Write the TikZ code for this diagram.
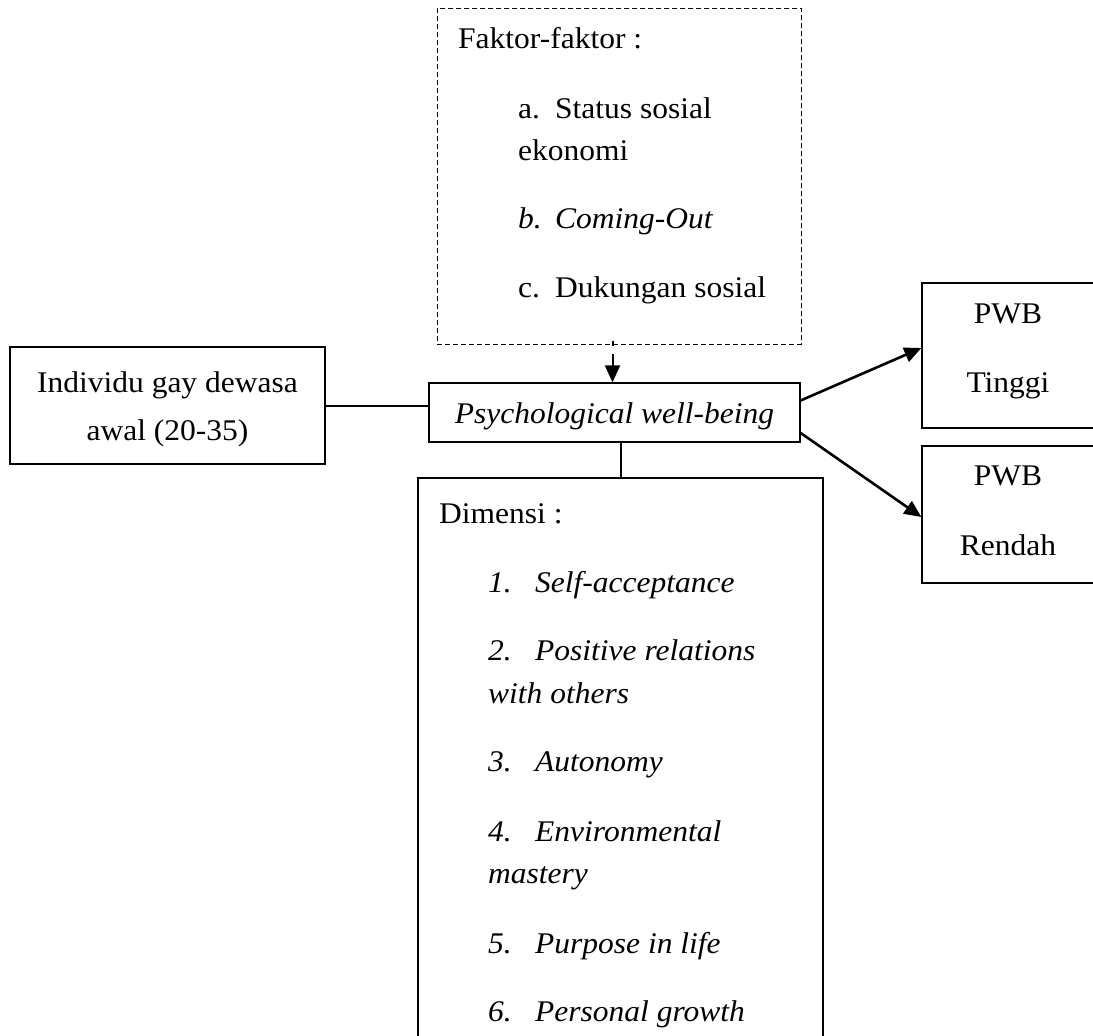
\documentclass[tikz,border=0pt]{standalone}
\usepackage{fontspec}
\setmainfont{Liberation Serif}[FakeStretch=1.05]
\usetikzlibrary{arrows.meta,calc}

\tikzset{
  box/.style={draw, line width=1.3pt, rectangle, inner sep=0pt},
  dashbox/.style={draw, line width=1pt, dash pattern=on 5pt off 3pt, inner sep=0pt},
  txt/.style={anchor=base west, inner sep=0pt},
  ctxt/.style={anchor=base, inner sep=0pt},
  link/.style={line width=2pt},
  arr/.style={-{Triangle[length=17pt,width=15pt]}, line width=2.6pt},
}

\begin{document}
\begin{tikzpicture}[x=1pt,y=-1pt,font=\fontsize{30}{36}\selectfont]
    \useasboundingbox (0,0) rectangle (1093,1036);
    \clip (0,0) rectangle (1093,1036);
    % Boxes
    \node[box, minimum width=315pt, minimum height=117pt] (indiv) at (167.5,405.5) {};
    \node[dashbox, minimum width=364pt, minimum height=336pt] (faktor) at (619,176) {};
    \node[box, minimum width=371pt, minimum height=59pt] (psych) at (614.5,412.5) {};
    \node[box, minimum width=173pt, minimum height=145pt] (tinggi) at (1008.5,355.5) {};
    \node[box, minimum width=173pt, minimum height=137pt] (rendah) at (1008.5,514.5) {};
    \node[box, minimum width=405pt, minimum height=572pt] (dimensi) at (620.5,764) {};
    % Texts of the boxes
    \node[ctxt] (indiv1) at (167.5,392) {Individu gay dewasa};
    \node[ctxt] (indiv2) at (167.5,440) {awal (20-35)};
    \node[txt] (fhead) at (458,48) {Faktor-faktor :};
    \node[txt] (fa) at (518,118) {\makebox[37pt][l]{a.}Status sosial};
    \node[txt] (fa2) at (518,160) {ekonomi};
    \node[txt] (fb) at (518,228) {\itshape\makebox[37pt][l]{b.}Coming-Out};
    \node[txt] (fc) at (518,297) {\makebox[37pt][l]{c.}Dukungan sosial};
    \node[ctxt] (pwbtext) at (614.5,423) {\itshape Psychological well-being};
    \node[ctxt] (t1) at (1008,323) {PWB};
    \node[ctxt] (t2) at (1008,392) {Tinggi};
    \node[ctxt] (r1) at (1008,485) {PWB};
    \node[ctxt] (r2) at (1008,555) {Rendah};
    \node[txt] (dhead) at (439,523) {Dimensi :};
    \node[txt] (d1) at (488,592) {\itshape\makebox[47pt][l]{1.}Self-acceptance};
    \node[txt] (d2) at (488,660) {\itshape\makebox[47pt][l]{2.}Positive relations};
    \node[txt] (d2b) at (488,703) {\itshape with others};
    \node[txt] (d3) at (488,771) {\itshape\makebox[47pt][l]{3.}Autonomy};
    \node[txt] (d4) at (488,841) {\itshape\makebox[47pt][l]{4.}Environmental};
    \node[txt] (d4b) at (488,883) {\itshape mastery};
    \node[txt] (d5) at (488,953) {\itshape\makebox[47pt][l]{5.}Purpose in life};
    \node[txt] (d6) at (488,1021) {\itshape\makebox[47pt][l]{6.}Personal growth};
    % Connectors
    \draw[link] (indiv.east) -- (indiv.east -| psych.west);
    \draw[link] (dimensi.north) -- (dimensi.north |- psych.south);
    \draw[arr, line width=2pt, dash pattern=on 5pt off 8pt on 40pt] ($(faktor.south -| psych.north)+(-2,-4)$) -- ($(psych.north)+(-2,0)$);
    \draw[arr] ($(psych.east)+(0,-12)$) -- ($(tinggi.west)+(0,-7.5)$);
    \draw[arr] ($(psych.east)+(0,20.5)$) -- ($(rendah.west)+(0,2.5)$);
\end{tikzpicture}
\end{document}
